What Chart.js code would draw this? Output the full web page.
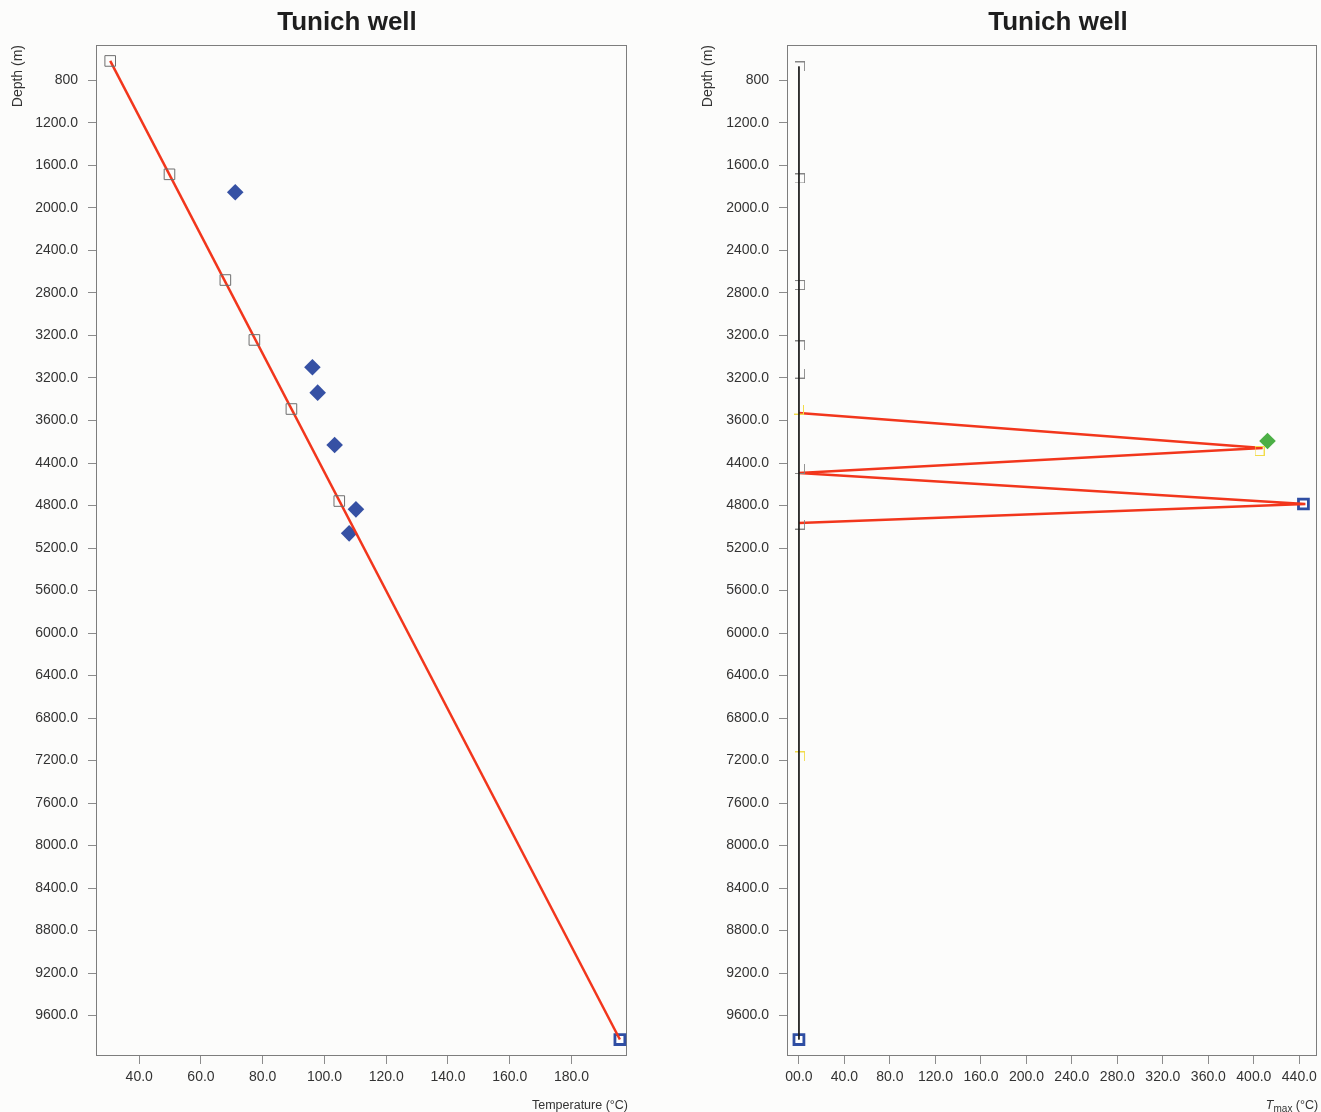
<!DOCTYPE html>
<html>
<head>
<meta charset="utf-8">
<title>Tunich well</title>
<script src="https://cdn.jsdelivr.net/npm/chart.js@4.4.1/dist/chart.umd.min.js"></script>
<style>
  html, body { margin: 0; padding: 0; background: #fcfcfb; overflow: hidden; }
  #wrap { position: relative; width: 1321px; height: 1112px; overflow: hidden; }
  #tempChart { position: absolute; left: 0; top: 0; }
  #tmaxChart { position: absolute; left: 660px; top: 0; }
</style>
</head>
<body>
<div id="wrap">
  <canvas id="tempChart" width="660" height="1112"></canvas>
  <canvas id="tmaxChart" width="667" height="1112"></canvas>
</div>
<script>
// axis ticks (labels as printed on the original figure)
const depthTicks = [800, 1200, 1600, 2000, 2400, 2800, 3200, 3600, 4000, 4400, 4800, 5200,
  5600, 6000, 6400, 6800, 7200, 7600, 8000, 8400, 8800, 9200, 9600];
const depthTickLabels = ['800', '1200.0', '1600.0', '2000.0', '2400.0', '2800.0', '3200.0', '3200.0',
  '3600.0', '4400.0', '4800.0', '5200.0', '5600.0', '6000.0', '6400.0', '6800.0', '7200.0', '7600.0',
  '8000.0', '8400.0', '8800.0', '9200.0', '9600.0'];
const tempTicks = [40, 60, 80, 100, 120, 140, 160, 180];
const tempTickLabels = ['40.0', '60.0', '80.0', '100.0', '120.0', '140.0', '160.0', '180.0'];
const tmaxTicks = [0, 40, 80, 120, 160, 200, 240, 280, 320, 360, 400, 440];
const tmaxTickLabels = ['00.0', '40.0', '80.0', '120.0', '160.0', '200.0', '240.0', '280.0',
  '320.0', '360.0', '400.0', '440.0'];

// left panel: temperature vs depth
const measuredTemp = [30.6, 49.8, 67.9, 77.3, 89.3, 104.8];
const measuredDepth = [616, 1683, 2678, 3242, 3892, 4758];
const correctedTemp = [71.1, 96.1, 97.8, 103.3, 110.2, 108.0];
const correctedDepth = [1852, 3499, 3738, 4231, 4836, 5062];
const gradientTemp = [30.6, 195.7];
const gradientDepth = [616, 9826];
const bottomTemp = [195.7];
const bottomDepth = [9826];

// right panel: Tmax vs depth
const profileTmax = [0, 0];
const profileDepth = [668, 9826];
const greySampleTmax = [1, 1, 1, 1, 1, 1, 1];
const greySampleDepth = [668, 1722, 2725, 3294, 3558, 4457, 4979];
const yellowSampleTmax = [0, 405, 1];
const yellowSampleDepth = [3897, 4287, 7162];
const zigzagTmax = [0, 407.7, 0, 445.3, 0];
const zigzagDepth = [3929, 4259, 4494, 4786, 4965];
const greenTmax = [412];
const greenDepth = [4193];
const blueTmax = [443.6, 0];
const blueDepth = [4786, 9826];

const pts = (xs, ys) => xs.map((x, i) => ({ x, y: ys[i] }));

const FONT = '"Liberation Sans", Arial, sans-serif';
Chart.defaults.font.family = FONT;
Chart.defaults.color = '#333';

// small open-square glyphs, only some edges drawn
function glyph(edges, color) {
  const c = document.createElement('canvas');
  c.width = 10; c.height = 10;
  const g = c.getContext('2d');
  g.strokeStyle = color;
  g.lineWidth = 1;
  g.beginPath();
  if (edges.includes('t')) { g.moveTo(0, 0.5); g.lineTo(10, 0.5); }
  if (edges.includes('r')) { g.moveTo(9.5, 0); g.lineTo(9.5, 10); }
  if (edges.includes('b')) { g.moveTo(0, 9.5); g.lineTo(10, 9.5); }
  if (edges.includes('l')) { g.moveTo(0.5, 0); g.lineTo(0.5, 10); }
  g.stroke();
  return c;
}

const decor = {
  id: 'decor',
  beforeDatasetsDraw(chart) {
    const { ctx, chartArea: a } = chart;
    ctx.save();
    ctx.strokeStyle = '#7d7d7d';
    ctx.lineWidth = 1;
    ctx.strokeRect(Math.round(a.left) + 0.5, Math.round(a.top) + 0.5,
      Math.round(a.right - a.left) - 1, Math.round(a.bottom - a.top) - 1);
    ctx.restore();
  },
  afterDraw(chart, args, opts) {
    const { ctx, chartArea: a } = chart;
    ctx.save();
    ctx.fillStyle = '#1e1e1e';
    ctx.font = 'bold 26px ' + FONT;
    ctx.textAlign = 'center';
    ctx.textBaseline = 'middle';
    ctx.fillText(opts.title, opts.titleX, 23);

    ctx.fillStyle = '#333';
    ctx.save();
    ctx.translate(opts.yTitleX, a.top);
    ctx.rotate(-Math.PI / 2);
    ctx.font = '14px ' + FONT;
    ctx.textAlign = 'right';
    ctx.fillText('Depth (m)', 0, 0);
    ctx.restore();

    // x title, right aligned, drawn part by part from the right
    ctx.textAlign = 'right';
    ctx.textBaseline = 'alphabetic';
    let x = a.right + 1;
    const base = 1109;
    for (let i = opts.xTitle.length - 1; i >= 0; i--) {
      const p = opts.xTitle[i];
      ctx.font = (p.italic ? 'italic ' : '') + (p.sub ? '10px ' : '12.5px ') + FONT;
      ctx.fillText(p.text, x, base + (p.sub ? 3 : 0));
      x -= ctx.measureText(p.text).width;
    }
    ctx.restore();
  }
};

function depthAxis(width) {
  return {
    type: 'linear',
    reverse: true,
    min: 466,
    max: 9981,
    afterBuildTicks: s => { s.ticks = depthTicks.map(v => ({ value: v })); },
    afterFit: s => { s.width = width; s.paddingTop = 0; s.paddingBottom = 0; },
    grid: { drawOnChartArea: false, tickLength: 8, color: '#8c8c8c' },
    border: { display: false },
    ticks: {
      autoSkip: false,
      padding: 10,
      font: { size: 14 },
      color: '#333',
      callback: (v, i) => depthTickLabels[i]
    }
  };
}

function valueAxis(min, max, ticks, labels) {
  return {
    type: 'linear',
    min, max,
    afterBuildTicks: s => { s.ticks = ticks.map(v => ({ value: v })); },
    afterFit: s => { s.height = 56; s.paddingLeft = 0; s.paddingRight = 0; },
    grid: { drawOnChartArea: false, tickLength: 8, color: '#8c8c8c' },
    border: { display: false },
    ticks: {
      autoSkip: false,
      maxRotation: 0,
      padding: 5,
      font: { size: 14 },
      color: '#333',
      callback: (v, i) => labels[i]
    }
  };
}

const common = {
  responsive: false,
  animation: false,
  events: [],
  plugins: { legend: { display: false }, tooltip: { enabled: false } }
};

new Chart(document.getElementById('tempChart'), {
  type: 'scatter',
  data: {
    datasets: [
      {
        data: pts(measuredTemp, measuredDepth),
        pointStyle: 'rect', pointRadius: 7.5, borderWidth: 1,
        borderColor: '#6e6e6e', backgroundColor: 'rgba(0,0,0,0)'
      },
      {
        data: pts(gradientTemp, gradientDepth),
        showLine: true, pointRadius: 0, borderWidth: 2.5, borderColor: '#f2361c'
      },
      {
        data: pts(correctedTemp, correctedDepth),
        pointStyle: 'rectRot', pointRadius: 8.3, borderWidth: 0,
        backgroundColor: '#3651a4', borderColor: '#3651a4'
      },
      {
        data: pts(bottomTemp, bottomDepth),
        pointStyle: 'rect', pointRadius: 7, borderWidth: 2.8,
        borderColor: '#2f4ea3', backgroundColor: '#ffffff'
      }
    ]
  },
  options: {
    ...common,
    layout: { padding: { top: 45, right: 33, left: 0, bottom: 0 } },
    clip: false,
    scales: {
      x: valueAxis(26, 198, tempTicks, tempTickLabels),
      y: depthAxis(96)
    },
    plugins: {
      ...common.plugins,
      decor: {
        title: 'Tunich well', titleX: 347, yTitleX: 18,
        xTitle: [{ text: 'Temperature (°C)' }]
      }
    }
  },
  plugins: [decor]
});

const greyGlyphs = ['tr', 'trb', 'trb', 'tr', 'rb', 'rb', 'rb'].map(e => glyph(e, '#858585'));
const yellowGlyphs = ['rb', 'trbl', 'tr'].map(e => glyph(e, '#f2dc4a'));

new Chart(document.getElementById('tmaxChart'), {
  type: 'scatter',
  data: {
    datasets: [
      {
        data: pts(profileTmax, profileDepth),
        showLine: true, pointRadius: 0, borderWidth: 1, borderColor: '#1c1c1c'
      },
      {
        data: pts(greySampleTmax, greySampleDepth),
        pointStyle: greyGlyphs, pointRadius: 5
      },
      {
        data: pts(yellowSampleTmax, yellowSampleDepth),
        pointStyle: yellowGlyphs, pointRadius: 5
      },
      {
        data: pts(zigzagTmax, zigzagDepth),
        showLine: true, pointRadius: 0, borderWidth: 2.5, borderColor: '#f2361c'
      },
      {
        data: pts(greenTmax, greenDepth),
        pointStyle: 'rectRot', pointRadius: 8.3, borderWidth: 0,
        backgroundColor: '#4caf46', borderColor: '#4caf46'
      },
      {
        data: pts(blueTmax, blueDepth),
        pointStyle: 'rect', pointRadius: 7, borderWidth: 2.8,
        borderColor: '#2f4ea3', backgroundColor: '#ffffff'
      }
    ]
  },
  options: {
    ...common,
    layout: { padding: { top: 45, right: 4, left: 0, bottom: 0 } },
    clip: false,
    scales: {
      x: valueAxis(-10.5, 455.7, tmaxTicks, tmaxTickLabels),
      y: depthAxis(127)
    },
    plugins: {
      ...common.plugins,
      decor: {
        title: 'Tunich well', titleX: 398, yTitleX: 48,
        xTitle: [{ text: 'T', italic: true }, { text: 'max', sub: true }, { text: ' (°C)' }]
      }
    }
  },
  plugins: [decor]
});
</script>
</body>
</html>
